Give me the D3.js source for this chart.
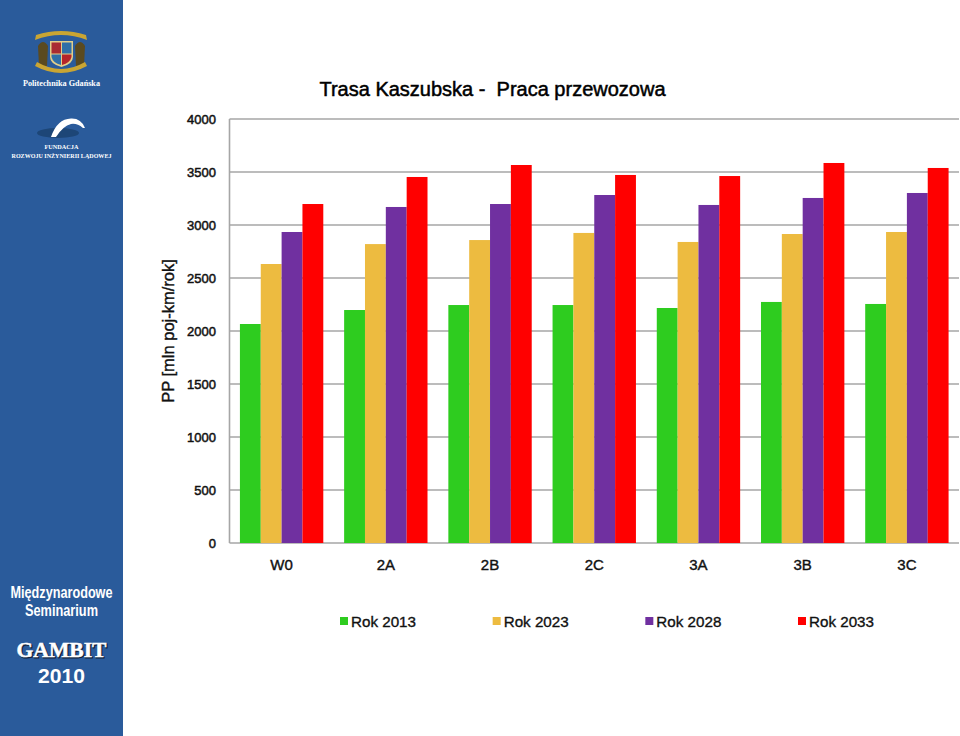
<!DOCTYPE html>
<html>
<head>
<meta charset="utf-8">
<script src="https://cdn.jsdelivr.net/npm/d3@7"></script>
<style>
  html, body { margin: 0; padding: 0; background: #fff; overflow: hidden; }
  svg { display: block; font-family: "Liberation Sans", Arial, sans-serif; }
</style>
</head>
<body>
<script>
const categories = ["W0", "2A", "2B", "2C", "3A", "3B", "3C"];
const seriesNames = ["Rok 2013", "Rok 2023", "Rok 2028", "Rok 2033"];
const rok2013 = [2066, 2198, 2245, 2245, 2217, 2274, 2255];
const rok2023 = [2632, 2820, 2858, 2925, 2840, 2915, 2934];
const rok2028 = [2934, 3170, 3198, 3283, 3189, 3255, 3302];
const rok2033 = [3198, 3453, 3566, 3472, 3462, 3585, 3538];
const yTicks = [0, 500, 1000, 1500, 2000, 2500, 3000, 3500, 4000];
const colors = ["#2ecc1f", "#edbb40", "#7030a0", "#ff0000"];

const width = 960;
const height = 736;

const svg = d3.select("body").append("svg")
  .attr("width", width)
  .attr("height", height);

// pasek boczny
svg.append("rect").attr("width", 123).attr("height", height).attr("fill", "#2a5b9b");

// napis na pasku, rozciągnięty do szerokości z oryginału
function sideText(label, yPos, size, len, family) {
  return svg.append("text").attr("x", 61.5).attr("y", yPos)
    .attr("text-anchor", "middle")
    .attr("font-family", family).attr("font-weight", "bold")
    .attr("font-size", size)
    .attr("textLength", len).attr("lengthAdjust", "spacingAndGlyphs")
    .attr("fill", "#fff").text(label);
}

// herb (uproszczony)
const crest = svg.append("g");
crest.append("path")
  .attr("d", "M35,38 Q61,28 87,38 L86,33 Q61,25 36,33 Z")
  .attr("transform", "translate(0,2)")
  .attr("fill", "#c9a533");
crest.selectAll("path.lion").data([[43, 54], [80, 54]]).join("path")
  .attr("class", "lion")
  .attr("d", d => `M${d[0] - 4},${d[1] + 12} L${d[0] - 5},${d[1] - 8} Q${d[0]},${d[1] - 16} ${d[0] + 5},${d[1] - 8} L${d[0] + 4},${d[1] + 12} Z`)
  .attr("fill", "#5a4a20");
crest.append("path")
  .attr("d", "M37,62 Q61,76 85,62 L87,66 Q61,80 35,66 Z")
  .attr("fill", "#c9a533");
crest.append("path")
  .attr("d", "M50,41 H73 V57 Q73,64 61.5,67 Q50,64 50,57 Z")
  .attr("fill", "#e2cf8a");
crest.append("rect").attr("x", 51.5).attr("y", 42.5).attr("width", 9.5).attr("height", 11).attr("fill", "#a92c32");
crest.append("rect").attr("x", 62).attr("y", 42.5).attr("width", 9.5).attr("height", 11).attr("fill", "#2f6fa8");
crest.append("path").attr("d", "M51.5,54.5 H61 V65 Q53,63 51.5,57 Z").attr("fill", "#2f6fa8");
crest.append("path").attr("d", "M62,54.5 H71.5 V57 Q70,63 62,65 Z").attr("fill", "#b5242a");

sideText("Politechnika  Gdańska", 86, 8.6, 77, "Liberation Serif");

// most
svg.append("ellipse").attr("cx", 58).attr("cy", 133).attr("rx", 21).attr("ry", 5).attr("fill", "#1d4677");
svg.append("path")
  .attr("d", "M51,137 Q57,119 71,118.5 Q81,118 85,128 L83,128 Q77,123 71,124 Q63,126 56,137 Z")
  .attr("fill", "#fff");

sideText("FUNDACJA", 149, 6.4, 34, "Liberation Serif");
sideText("ROZWOJU INŻYNIERII LĄDOWEJ", 158, 6.4, 100, "Liberation Serif");

sideText("Międzynarodowe", 598, 16, 102, "Liberation Sans");
sideText("Seminarium", 616, 16, 73, "Liberation Sans");

svg.append("text").attr("x", 62.5).attr("y", 658).attr("text-anchor", "middle")
  .attr("font-family", "Liberation Serif").attr("font-weight", "bold")
  .attr("font-size", 21).attr("textLength", 90).attr("lengthAdjust", "spacingAndGlyphs")
  .attr("fill", "#14233a").attr("stroke", "#14233a").attr("stroke-width", 1)
  .text("GAMBIT");
sideText("GAMBIT", 657, 21, 90, "Liberation Serif")
  .attr("stroke", "#fff").attr("stroke-width", 0.5);
sideText("2010", 683, 21, 47, "Liberation Sans");

// skale
const x = d3.scaleBand().domain(categories).range([229.5, 959]).paddingInner(0.2).paddingOuter(0.1);
const y = d3.scaleLinear().domain([0, 4000]).range([543, 119]);
const x1 = d3.scaleBand().domain(d3.range(4)).range([0, x.bandwidth()]);

// siatka
svg.append("g").selectAll("line").data(yTicks).join("line")
  .attr("x1", 229.5).attr("x2", 959)
  .attr("y1", d => y(d)).attr("y2", d => y(d))
  .attr("stroke", "#a6a6a6").attr("stroke-width", 1.6);
svg.append("line").attr("x1", 229.5).attr("x2", 229.5)
  .attr("y1", y(4000)).attr("y2", y(0))
  .attr("stroke", "#a6a6a6").attr("stroke-width", 1.6);

// słupki
[rok2013, rok2023, rok2028, rok2033].forEach((values, s) => {
  svg.append("g").selectAll("rect").data(values).join("rect")
    .attr("x", (d, i) => x(categories[i]) + x1(s))
    .attr("y", d => y(d))
    .attr("width", x1.bandwidth())
    .attr("height", d => y(0) - y(d))
    .attr("fill", colors[s]);
});

// osie - opisy
svg.append("g").selectAll("text").data(yTicks).join("text")
  .attr("x", 216).attr("y", d => y(d) + 4.5)
  .attr("text-anchor", "end").attr("font-size", 13)
  .attr("fill", "#111").attr("stroke", "#111").attr("stroke-width", 0.5)
  .text(d => d);

svg.append("g").selectAll("text").data(categories).join("text")
  .attr("x", d => x(d) + x.bandwidth() / 2).attr("y", 570)
  .attr("text-anchor", "middle").attr("font-size", 15)
  .attr("fill", "#111").attr("stroke", "#111").attr("stroke-width", 0.4)
  .text(d => d);

svg.append("text").attr("transform", "translate(174,331) rotate(-90)")
  .attr("text-anchor", "middle").attr("font-size", 16.5)
  .attr("fill", "#111").attr("stroke", "#111").attr("stroke-width", 0.4)
  .text("PP [mln poj-km/rok]");

svg.append("text").attr("x", 492.5).attr("y", 96).attr("text-anchor", "middle")
  .style("white-space", "pre")
  .attr("font-size", 20).attr("fill", "#000").attr("stroke", "#000").attr("stroke-width", 0.5)
  .text("Trasa Kaszubska -  Praca przewozowa");

// legenda
const legendX = d3.scalePoint().domain(seriesNames).range([340, 798]);
const legend = svg.append("g").selectAll("g").data(seriesNames).join("g")
  .attr("transform", d => `translate(${legendX(d)},0)`);
legend.append("rect").attr("y", 617).attr("width", 8).attr("height", 8)
  .attr("fill", (d, i) => colors[i]);
legend.append("text").attr("x", 11).attr("y", 627)
  .attr("font-size", 15.2).attr("fill", "#111").attr("stroke", "#111").attr("stroke-width", 0.35)
  .text(d => d);
</script>
</body>
</html>
